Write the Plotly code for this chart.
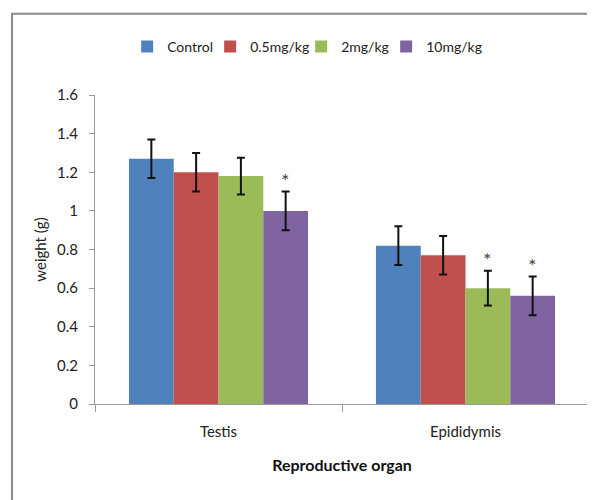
import plotly.graph_objects as go

categories = ["Testis", "Epididymis"]
series_names = ["Control", "0.5mg/kg", "2mg/kg", "10mg/kg"]
control = [1.27, 0.82]
mg05 = [1.20, 0.77]
mg2 = [1.18, 0.60]
mg10 = [1.00, 0.56]
control_err = [0.10, 0.10]
mg05_err = [0.10, 0.10]
mg2_err = [0.095, 0.09]
mg10_err = [0.10, 0.10]
# significance markers: (category index, series index)
significant = [(0, 3), (1, 2), (1, 3)]

colors = ["#4F81BD", "#C0504D", "#9BBB59", "#8064A2"]
values = [control, mg05, mg2, mg10]
errors = [control_err, mg05_err, mg2_err, mg10_err]

FONT = "Lato, sans-serif"
BARGAP = 0.275
legend_ids = ["legend", "legend2", "legend3", "legend4"]
legend_x = [0.0651, 0.2331, 0.4173, 0.5894]

fig = go.Figure()
for name, vals, errs, col, lid in zip(series_names, values, errors, colors, legend_ids):
    fig.add_trace(go.Bar(
        x=categories, y=vals, name=name, legend=lid, showlegend=True,
        marker=dict(color=col, line=dict(width=0)),
        error_y=dict(type="data", array=errs, visible=True,
                     color="#111111", thickness=2, width=4),
    ))

nser = len(series_names)
bw = (1 - BARGAP) / nser
for ci, si in significant:
    xpos = ci + (si - (nser - 1) / 2) * bw
    top = values[si][ci] + errors[si][ci]
    fig.add_annotation(x=xpos, y=top, xref="x", yref="y", text="*",
                       showarrow=False, yanchor="bottom", yshift=-2,
                       font=dict(family=FONT, size=20, color="#444444"))

fig.add_shape(type="rect", xref="paper", yref="paper",
              x0=-0.168, x1=1.2, y0=-0.6, y1=1.2626,
              line=dict(color="#8a8a8a", width=2), fillcolor="rgba(0,0,0,0)",
              layer="below")

legends = {}
for lid, lx in zip(legend_ids, legend_x):
    legends[lid] = dict(orientation="h", x=lx, xanchor="left", y=1.156,
                        yanchor="middle", itemwidth=30,
                        bgcolor="rgba(0,0,0,0)",
                        font=dict(family=FONT, size=14, color="#222222"))

fig.update_layout(
    width=587, height=492,
    margin=dict(l=87, r=6, t=87, b=96),
    paper_bgcolor="white", plot_bgcolor="white",
    showlegend=True,
    barmode="group", bargap=BARGAP, bargroupgap=0,
    font=dict(family=FONT, size=14, color="#222222"),
    **legends,
    xaxis=dict(
        type="category",
        showline=True, linecolor="#9a9a9a", linewidth=1,
        ticks="outside", tickson="boundaries", ticklen=7, tickcolor="#9a9a9a",
        showgrid=False, tickfont=dict(size=15, color="#222222"),
        ticklabelstandoff=14,
        title=dict(text="<b>Reproductive organ</b>", standoff=20,
                   font=dict(size=16, color="#111111")),
    ),
    yaxis=dict(
        range=[0, 1.6], dtick=0.2, tick0=0,
        showline=True, linecolor="#9a9a9a", linewidth=1,
        ticks="outside", ticklen=5, tickcolor="#9a9a9a",
        showgrid=False, zeroline=False,
        ticklabelstandoff=8,
        tickfont=dict(size=15, color="#222222"),
        title=dict(text="weight (g)", standoff=6,
                   font=dict(size=15, color="#222222")),
    ),
)

fig.write_html("out.html")
